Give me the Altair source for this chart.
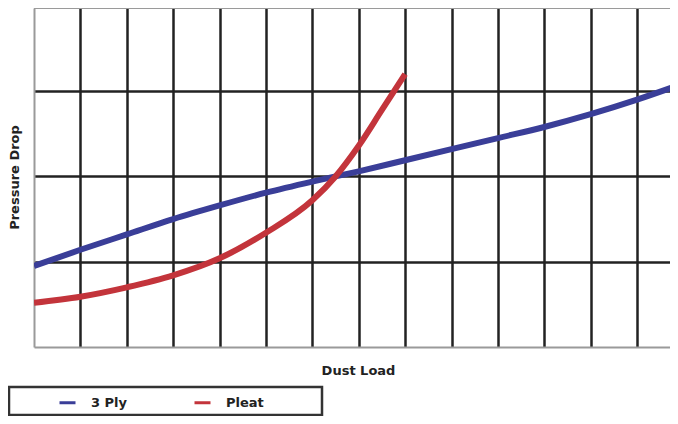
import altair as alt
import pandas as pd

# Data (arbitrary grid units)
ply_x = [0, 1, 2, 3, 4, 5, 6, 7, 8, 9, 10, 11, 12, 13, 13.9]
ply_y = [0.95, 1.14, 1.32, 1.50, 1.66, 1.81, 1.94, 2.06, 2.19, 2.32, 2.45, 2.58, 2.73, 2.90, 3.07]
pleat_x = [0, 1, 2, 3, 4, 5, 6, 6.5, 7, 7.5, 8]
pleat_y = [0.52, 0.59, 0.70, 0.84, 1.04, 1.34, 1.72, 2.0, 2.36, 2.78, 3.2]
series = ["3 Ply", "Pleat"]
colors = ["#3a3e98", "#c3343b"]

rows = [{"load": x, "drop": y, "series": "3 Ply"} for x, y in zip(ply_x, ply_y)]
rows += [{"load": x, "drop": y, "series": "Pleat"} for x, y in zip(pleat_x, pleat_y)]
df = pd.DataFrame(rows)

FONT = "DejaVu Sans"
W, H = 636, 339

lines = alt.Chart(df).mark_line(strokeWidth=6, interpolate="monotone", clip=True).encode(
    x=alt.X("load:Q", scale=alt.Scale(domain=[0, 13.71], nice=False),
            axis=alt.Axis(values=list(range(1, 14)), grid=True, gridColor="#222222", gridWidth=2.5,
                          labels=False, ticks=False, domain=True, domainColor="#9a9a9a", domainWidth=2,
                          title="Dust Load", titleFont=FONT, titleFontSize=13, titleFontWeight="bold",
                          titleColor="#222222", titleX=324, titleY=23, titleBaseline="middle",
                          titleAlign="center")),
    y=alt.Y("drop:Q", scale=alt.Scale(domain=[0, 3.975], nice=False),
            axis=alt.Axis(values=[1, 2, 3], grid=True, gridColor="#222222", gridWidth=2.5,
                          labels=False, ticks=False, domain=True, domainColor="#9a9a9a", domainWidth=2,
                          title="Pressure Drop", titleFont=FONT, titleFontSize=13, titleFontWeight="bold",
                          titleColor="#222222", titleX=-20, titleY=169, titleAngle=-90,
                          titleBaseline="middle", titleAlign="center")),
    color=alt.Color("series:N", scale=alt.Scale(domain=series, range=colors),
                    legend=alt.Legend(orient="none", legendX=24, legendY=385, direction="horizontal",
                                      columns=2, title=None, symbolType="stroke", symbolSize=256,
                                      symbolStrokeWidth=3, labelFont=FONT, labelFontSize=13,
                                      labelFontWeight="bold", labelColor="#222222", labelOffset=14,
                                      columnPadding=60, padding=0)),
)

deco_df = pd.DataFrame({"k": [0]})
top_border = alt.Chart(deco_df).mark_rule(stroke="#9a9a9a", strokeWidth=2).encode(
    x=alt.value(0), x2=alt.value(W), y=alt.value(0)
)
box = alt.Chart(deco_df).mark_rect(fill="white", fillOpacity=0, stroke="#333333", strokeWidth=2.5,
                                     clip=False).encode(
    x=alt.value(-25), x2=alt.value(288), y=alt.value(379), y2=alt.value(407)
)

chart = alt.layer(top_border, box, lines).properties(
    width=W, height=H,
    autosize=alt.AutoSizeParams(type="none"),
    padding={"left": 26, "top": 0, "right": 0, "bottom": 69},
    background="white",
).configure_view(stroke="transparent", strokeWidth=0)

chart.save("out.html", embed_options={"renderer": "svg", "actions": False})
